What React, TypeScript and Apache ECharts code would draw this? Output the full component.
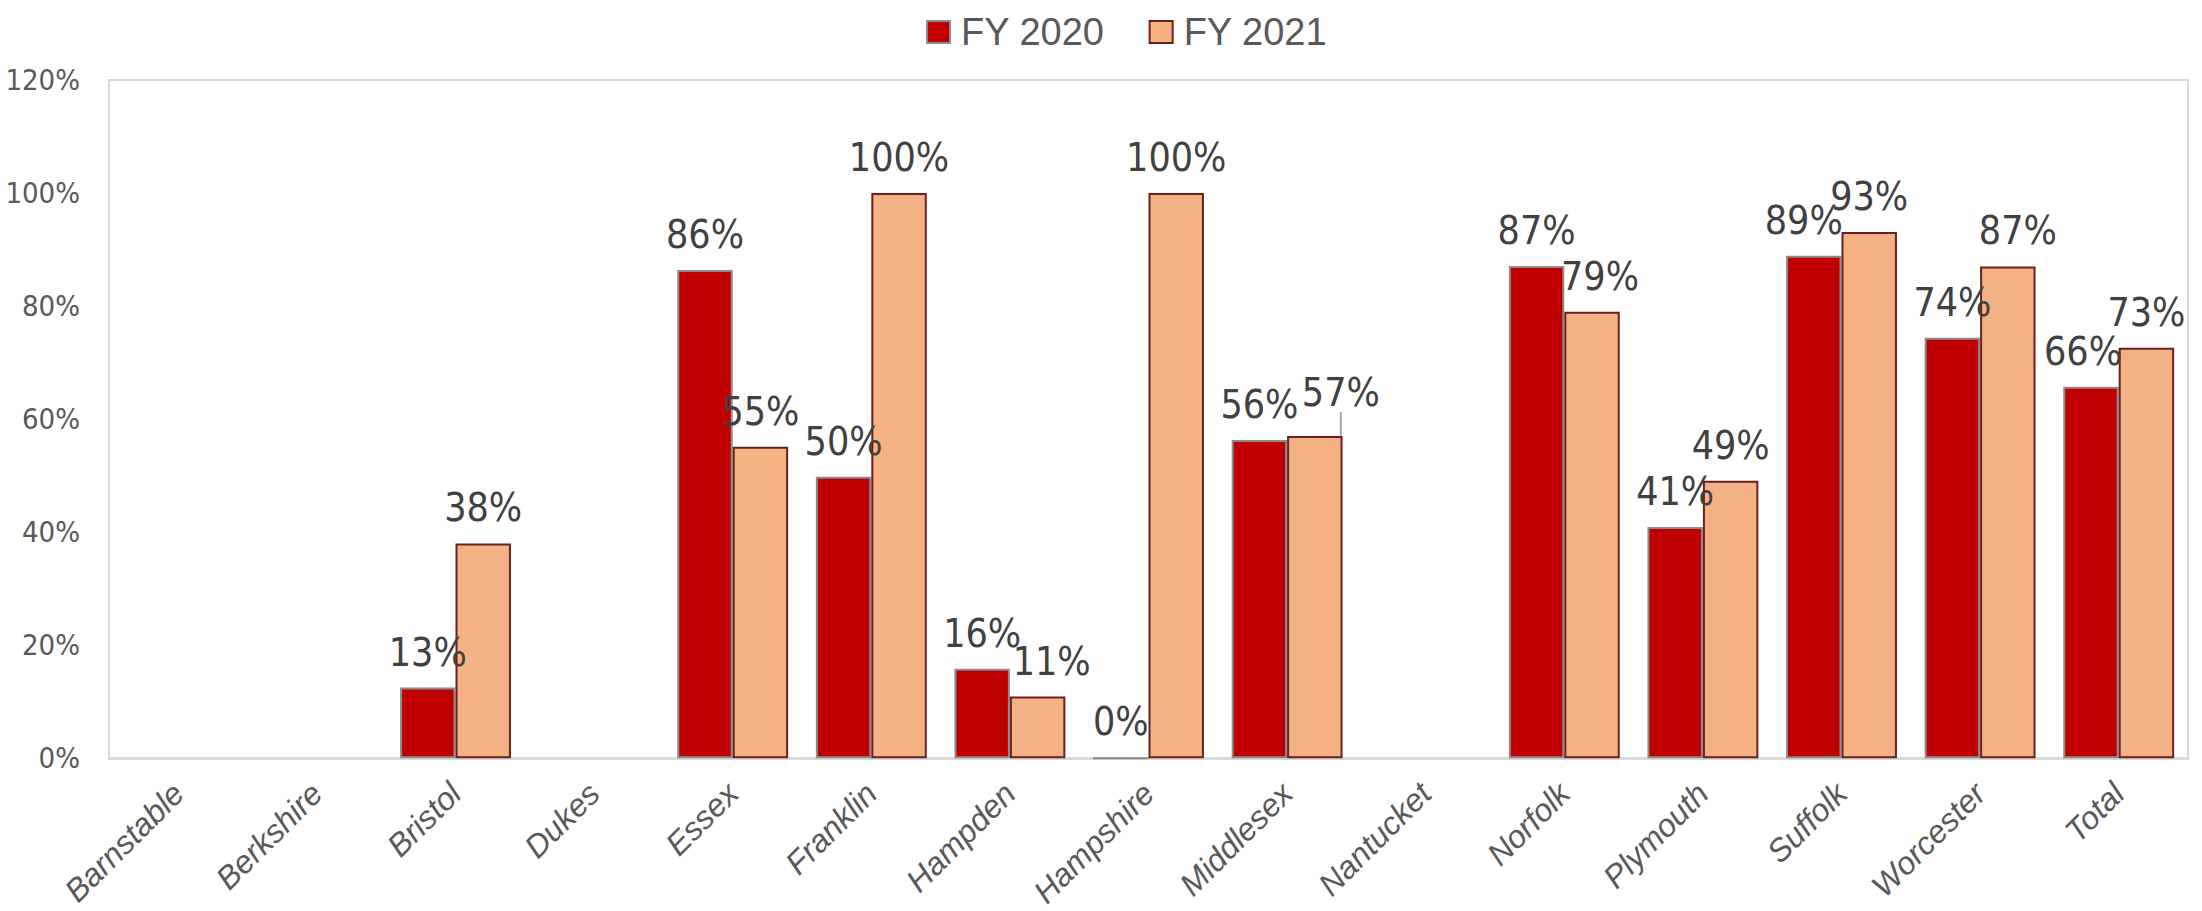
import { useEffect, useRef } from "react";
import * as echarts from "echarts";

const categories = [
  "Barnstable", "Berkshire", "Bristol", "Dukes", "Essex", "Franklin", "Hampden",
  "Hampshire", "Middlesex", "Nantucket", "Norfolk", "Plymouth", "Suffolk", "Worcester", "Total",
];
const fy2020: (number | null)[] = [null, null, 12.5, null, 86.4, 49.8, 15.8, 0, 56.3, null, 87.1, 40.9, 88.9, 74.4, 65.7];
const fy2021: (number | null)[] = [null, null, 38, null, 55.1, 100, 10.9, 100, 57, null, 79, 49.1, 93.1, 87, 72.6];
const seriesNames = ["FY 2020", "FY 2021"];
const yMin = 0;
const yMax = 120;
const yStep = 20;

const NARROW = "'DejaVu Sans Condensed', 'Liberation Sans', sans-serif";
const REGULAR = "'Liberation Sans', Arial, sans-serif";

// manual label nudges (as in the reference, where a few labels were moved)
const labelNudge: Record<string, [number, number]> = {
  "0-12": [-10, 0],
  "0-14": [-8, 0],
  "1-6": [14, 0],
  "1-8": [26, -8],
  "1-10": [8, 0],
  "1-13": [10, 0],
};

export default function App() {
  const ref = useRef<HTMLDivElement>(null);
  useEffect(() => {
    if (!ref.current) return;
    const chart = echarts.init(ref.current, undefined, { renderer: "svg" });
    const labelFmt = (p: any) => (p.value == null ? "" : Math.round(p.value) + "%");
    const dataLabel = {
      show: true,
      position: "top" as const,
      distance: 16,
      fontSize: 39,
      fontFamily: NARROW,
      color: "#404040",
      formatter: labelFmt,
    };
    const layout = (p: any) => {
      const n = labelNudge[p.seriesIndex + "-" + p.dataIndex];
      return n ? { dx: n[0], dy: n[1] } : {};
    };
    chart.setOption({
      animation: false,
      backgroundColor: "#ffffff",
      legend: {
        left: 921,
        top: 8,
        itemWidth: 23,
        itemHeight: 22,
        itemGap: 44,
        icon: "rect",
        textStyle: { fontSize: 38, fontFamily: REGULAR, color: "#595959", padding: [0, 0, 0, 6] },
        data: seriesNames,
      },
      grid: {
        left: 109,
        right: 14,
        top: 80,
        bottom: 148,
        show: true,
        borderColor: "#d9d9d9",
        borderWidth: 2,
        backgroundColor: "transparent",
      },
      xAxis: {
        type: "category",
        data: categories,
        axisLine: { show: true, lineStyle: { color: "#d9d9d9", width: 3 } },
        axisTick: { show: false },
        axisLabel: {
          rotate: 45,
          margin: 30,
          interval: 0,
          fontSize: 32,
          fontStyle: "italic",
          fontFamily: REGULAR,
          color: "#595959",
        },
      },
      yAxis: {
        type: "value",
        min: yMin,
        max: yMax,
        interval: yStep,
        splitLine: { show: false },
        axisLine: { show: false },
        axisTick: { show: false },
        axisLabel: {
          margin: 29,
          fontSize: 29,
          fontFamily: NARROW,
          color: "#595959",
          formatter: (v: number) => v + "%",
        },
      },
      series: [
        {
          name: seriesNames[0],
          type: "bar",
          data: fy2020,
          barGap: "0%",
          barCategoryGap: "20%",
          itemStyle: { color: "#C00000", borderColor: "#8c8c8c", borderWidth: 2 },
          label: dataLabel,
          labelLayout: layout,
        },
        {
          name: seriesNames[1],
          type: "bar",
          data: fy2021.map((v, i) =>
            i === 8
              ? { value: v, labelLine: { show: true, lineStyle: { color: "#a6a6a6", width: 2 } } }
              : v
          ),
          barGap: "0%",
          barCategoryGap: "20%",
          itemStyle: { color: "#F4B183", borderColor: "#6b2020", borderWidth: 2 },
          label: dataLabel,
          labelLayout: layout,
        },
      ],
    });
    return () => chart.dispose();
  }, []);
  return (
    <div
      ref={ref}
      style={{ position: "fixed", left: 0, top: 0, width: 2202, height: 911, background: "#fff" }}
    />
  );
}
